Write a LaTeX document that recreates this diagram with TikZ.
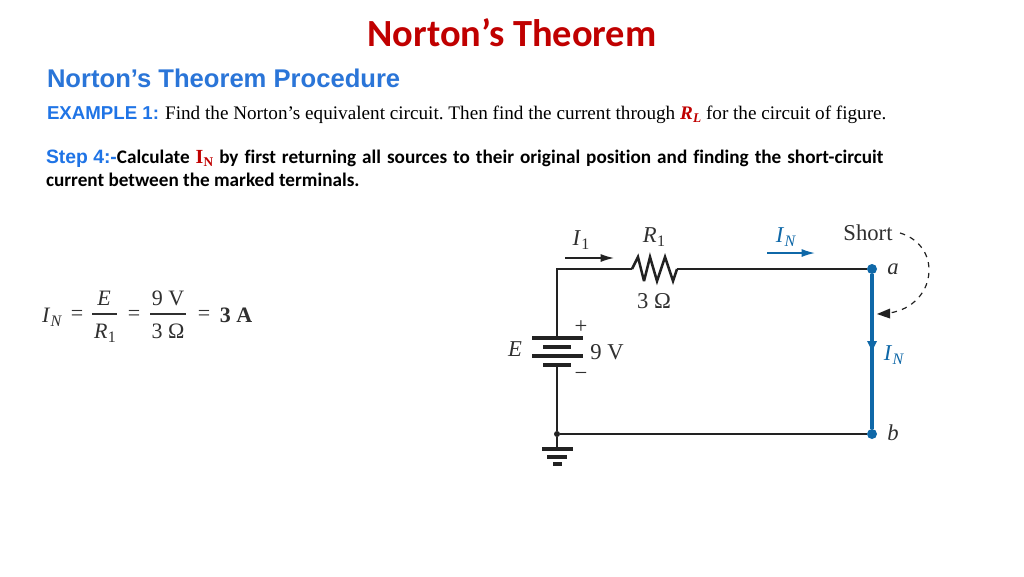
\documentclass[tikz,border=0pt]{standalone}
\usepackage{fontspec}
\setmainfont{Liberation Serif}
\newfontfamily\lsans{Liberation Sans}
\newfontfamily\carl{Carlito}
\newfontfamily\carlnl[Ligatures=NoCommon]{Carlito}
\usetikzlibrary{arrows.meta}
\definecolor{titlered}{HTML}{C00000}
\definecolor{headblue}{HTML}{2A75D8}
\definecolor{exblue}{HTML}{1F74E6}
\definecolor{cblue}{HTML}{0F68A8}
\definecolor{wire}{HTML}{222222}
\definecolor{ink}{HTML}{303030}
\newcommand{\Ohm}{\symbol{"03A9}}
\newcommand{\lowsub}[1]{\kern0.3pt\raisebox{-3.2pt}{\fontsize{12}{12}\selectfont #1}}
\newcommand{\smallsub}[1]{\kern0.2pt\raisebox{-2.6pt}{\fontsize{10}{10}\selectfont #1}}
\tikzset{
  lbl/.style={inner sep=0pt,outer sep=0pt,anchor=base,text=ink,font=\fontsize{17}{20}\selectfont},
  eqlbl/.style={lbl,font=\fontsize{16.5}{20}\selectfont},
  blbl/.style={lbl,text=cblue},
  wirel/.style={draw=wire,line width=1.5pt},
  plate/.style={draw=wire,line width=2.4pt},
  fatplate/.style={draw=wire,line width=3.6pt},
  gnd/.style={draw=wire,line width=3pt},
  dotn/.style={circle,fill=#1,inner sep=0pt,minimum size=7.5pt},
  txt/.style={inner sep=0pt,outer sep=0pt,anchor=base west}
}
\begin{document}
\begin{tikzpicture}[x=0.75pt,y=-0.75pt]
\useasboundingbox (0,0) rectangle (1024,576);
\fill[white] (0,0) rectangle (1024,576);
% texts
\node[inner sep=0pt,anchor=base,text=titlered,font=\carl\bfseries\fontsize{28.8}{32}\selectfont] (title) at (512,46) {Norton’s Theorem};
\node[txt,text=headblue,font=\lsans\bfseries\fontsize{19.2}{22}\selectfont] (head) at (47,87) {Norton’s Theorem Procedure};
\node[txt,font=\frenchspacing\fontsize{14.38}{16}\selectfont] (ex) at (47,119) {{\lsans\bfseries\color{exblue}\fontsize{14}{16}\selectfont EXAMPLE 1:}\kern1pt\ Find the Norton’s equivalent circuit. Then find the current through {\bfseries\itshape\color{titlered}R\smallsub{L}} for the circuit of figure.};
\node[inner sep=0pt,outer sep=0pt,anchor=north west,text width=628pt,align=justify,font=\carlnl\bfseries\frenchspacing\fontsize{14.4}{17.5}\selectfont] (step) at (46,150) {\mbox{\lsans\color{exblue}\fontsize{14.5}{17}\selectfont Step 4:-}Calculate {\rmfamily\color{titlered}\fontsize{15}{17}\selectfont I\smallsub{N}} by first returning all sources to their original position and finding the short-circuit\linebreak current between the marked terminals.};
% equation
\node[eqlbl] (eqin) at (52,322) {\textit{I}\lowsub{\textit{N}}};
\node[eqlbl] (eq1) at (77,320) {=};
\node[eqlbl] (eqe) at (104,305) {\textit{E}};
\node[eqlbl] (eqr) at (105,338) {\textit{R}\lowsub{1}};
\node[eqlbl] (eq2) at (134,320) {=};
\node[eqlbl] (eqv) at (168,305) {9 V};
\node[eqlbl] (eqo) at (168,338) {3 \Ohm};
\node[eqlbl] (eq3) at (204,320) {=};
\node[eqlbl] (eqa) at (236,322) {\textbf{3 A}};
\draw[draw=ink,line width=0.8pt] (92,314) -- (117,314);
\draw[draw=ink,line width=0.8pt] (150,314) -- (186,314);
% circuit coordinates
\coordinate (tl) at (557,269);
\coordinate (bl) at (557,434);
\coordinate (rl) at (632,269);
\coordinate (rr) at (677,269);
\coordinate (b1) at (557,338);
\coordinate (b4) at (557,365);
\coordinate (g1) at (557,449);
\node[dotn=cblue] (a) at (872,269) {};
\node[dotn=cblue] (b) at (872,434) {};
\node[circle,fill=wire,inner sep=0pt,minimum size=4.5pt] (j) at (bl) {};
% wires
\draw[wirel] (b1) -- (tl) -- (rl);
\draw[wirel,line width=1.9pt,miter limit=4] (rl) -- (638,257) -- (644,281) -- (650,257) -- (657,281) -- (665,257) -- (673,281) -- (rr);
\draw[wirel] (rr) -- (a);
\draw[wirel] (b4) -- (j);
\draw[wirel] (j) -- (b);
\draw[wirel] (j) -- (g1);
% battery
\draw[plate] (532,338) -- (583,338);
\draw[fatplate] (543,347) -- (571,347);
\draw[plate] (532,356) -- (583,356);
\draw[fatplate] (543,365) -- (571,365);
% ground
\draw[gnd] (542,449) -- (573,449);
\draw[gnd] (547,457) -- (567,457);
\draw[gnd] (553,464) -- (562,464);
% short
\draw[draw=cblue,line width=2.8pt] (a) -- (b);
\fill[cblue] (867,341) -- (877,341) -- (872,351) -- cycle;
% arrows
\coordinate (i1s) at (565,258);
\coordinate (i1e) at (614,258);
\draw[draw=wire,line width=1pt,-{Latex[length=10pt,width=6pt]}] (i1s) -- (i1e);
\coordinate (ins) at (767,253);
\coordinate (ine) at (815,253);
\draw[draw=cblue,line width=1.2pt,-{Latex[length=10pt,width=6pt]}] (ins) -- (ine);
\coordinate (ss) at (900,233);
\coordinate (se) at (877,314);
\draw[draw=wire,line width=0.9pt,dash pattern=on 4pt off 4pt] (ss) .. controls (917,238) and (929,252) .. (929,270) .. controls (929,292) and (912,310) .. (889,313);
\fill[wire] (se) -- (890,308.5) -- (890,318.5) -- cycle;
% labels
\node[lbl] (li1) at (581,245) {\textit{I}\lowsub{1}};
\node[lbl] (lr1) at (654,242) {\textit{R}\lowsub{1}};
\node[lbl] (lro) at (654,308) {3 \Ohm};
\node[lbl] (lp) at (581,333) {+};
\node[lbl] (lv) at (607,359) {9 V};
\node[lbl] (le) at (515,356) {\textit{E}};
\node[lbl] (lm) at (581,380) {−};
\node[blbl] (lin) at (786,242) {\textit{I}\lowsub{\textit{N}}};
\node[lbl] (ls) at (868,240) {Short};
\node[lbl] (la) at (893,274) {\textit{a}};
\node[lbl] (lb) at (893,440) {\textit{b}};
\node[blbl] (lin2) at (894,360) {\textit{I}\lowsub{\textit{N}}};
\end{tikzpicture}
\end{document}
